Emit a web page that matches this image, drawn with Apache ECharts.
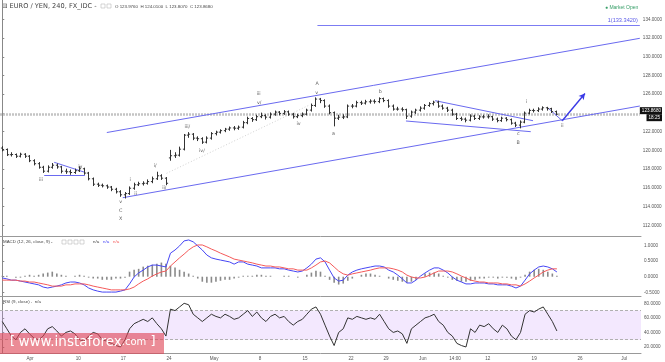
<!DOCTYPE html>
<html><head><meta charset="utf-8">
<script src="https://cdn.jsdelivr.net/npm/echarts@6/dist/echarts.min.js"></script>
<style>html,body{margin:0;padding:0;background:#fff}#c{width:665px;height:362px}</style>
</head><body><div id="c"></div>
<script>
// ---- price bars (half-day bars, EUR/JPY) ----
const opens=[120.25,120.10,119.54,119.56,119.38,119.59,119.38,118.90,118.58,118.20,
117.78,118.20,118.42,118.24,117.78,117.72,117.64,117.83,118.04,117.58,
116.97,116.39,116.28,116.22,116.09,115.85,115.58,115.26,115.39,115.96,
116.33,116.44,116.49,116.67,116.97,117.29,117.03,119.20,119.43,119.49,
120.13,121.63,121.73,121.31,121.25,120.88,121.31,121.79,121.95,122.11,
122.27,122.40,122.37,122.48,122.96,123.41,123.28,123.60,123.71,123.55,
123.87,124.09,123.95,124.12,123.87,123.60,123.71,123.87,124.30,124.80,
125.48,125.32,124.73,124.03,123.44,123.55,123.58,124.73,124.73,125.10,
125.05,125.19,125.26,125.21,125.53,125.32,124.73,124.41,124.41,124.35,
123.66,124.09,124.30,124.51,124.80,124.99,125.15,124.73,124.51,124.30,
123.87,123.41,123.34,123.23,123.66,123.41,123.58,123.58,123.60,123.34,
123.18,123.44,123.28,122.91,122.70,123.02,123.98,124.27,124.25,124.41,
124.55,124.46,124.14];
const highs=[120.40,120.15,119.75,119.62,119.70,119.65,119.45,119.00,118.70,118.30,
118.35,118.60,118.55,118.30,118.00,117.90,118.00,118.25,118.10,117.65,
117.05,116.50,116.40,116.30,116.15,115.95,115.70,115.50,116.10,116.50,
116.60,116.65,116.85,117.15,117.67,117.40,117.10,120.00,119.75,120.35,
121.70,121.90,121.80,121.45,121.35,121.45,121.90,122.05,122.20,122.35,
122.50,122.55,122.60,123.10,123.55,123.50,123.75,123.98,123.80,124.00,
124.20,124.15,124.25,124.20,123.95,123.85,124.00,124.40,124.95,125.61,
125.55,125.40,124.85,124.10,123.75,123.80,124.85,124.90,125.25,125.25,
125.35,125.40,125.40,125.61,125.58,125.40,124.85,124.60,124.55,124.40,
124.20,124.40,124.65,124.90,125.10,125.25,125.26,124.85,124.60,124.40,
123.95,123.55,123.45,123.80,123.75,123.70,123.75,123.80,123.65,123.45,
123.55,123.50,123.35,123.00,123.15,124.10,124.40,124.40,124.55,124.65,
124.60,124.50,124.20];
const lows=[119.95,119.45,119.40,119.25,119.30,119.25,118.80,118.45,118.10,117.65,
117.70,118.10,118.10,117.60,117.55,117.45,117.55,117.75,117.45,116.85,
116.25,116.15,116.10,115.95,115.70,115.45,115.10,114.92,115.30,115.85,
116.25,116.30,116.40,116.55,116.90,116.90,116.35,118.95,119.25,119.40,
120.05,121.40,121.15,121.05,120.75,120.80,121.20,121.65,121.85,122.00,
122.15,122.20,122.25,122.40,122.85,123.10,123.20,123.50,123.35,123.45,
123.75,123.80,123.85,123.75,123.45,123.50,123.60,123.80,124.20,124.70,
125.10,124.60,123.90,122.62,123.30,123.40,123.50,124.55,124.65,124.90,
124.95,125.05,125.05,125.10,125.20,124.60,124.30,124.30,124.20,123.41,
123.55,123.95,124.20,124.40,124.70,124.85,124.60,124.40,124.15,123.75,
123.30,123.20,123.05,123.15,123.30,123.30,123.45,123.45,123.20,123.05,
123.10,123.15,122.80,122.55,122.41,122.95,123.90,124.10,124.15,124.30,
124.30,124.05,123.81];
const closes=[120.10,119.54,119.56,119.38,119.59,119.38,118.90,118.58,118.20,117.78,
118.20,118.42,118.24,117.78,117.72,117.64,117.83,118.04,117.58,116.97,
116.39,116.28,116.22,116.09,115.85,115.58,115.26,115.39,115.96,116.33,
116.44,116.49,116.67,116.97,117.29,117.03,116.49,119.43,119.49,120.13,
121.63,121.73,121.31,121.25,120.88,121.31,121.79,121.95,122.11,122.27,
122.40,122.37,122.48,122.96,123.41,123.28,123.60,123.71,123.55,123.87,
124.09,123.95,124.12,123.87,123.60,123.71,123.87,124.30,124.80,125.48,
125.32,124.73,124.03,123.44,123.55,123.58,124.73,124.73,125.10,125.05,
125.19,125.26,125.21,125.53,125.32,124.73,124.41,124.41,124.35,123.66,
124.09,124.30,124.51,124.80,124.99,125.15,124.73,124.51,124.30,123.87,
123.41,123.34,123.23,123.66,123.41,123.58,123.58,123.60,123.34,123.18,
123.44,123.28,122.91,122.70,123.02,123.98,124.27,124.25,124.41,124.55,
124.46,124.14,123.868];

// ---- MACD (12,26,close,9) ----
const macdLine=[-0.04,-0.07,-0.11,-0.11,-0.14,-0.17,-0.20,-0.23,-0.26,-0.33,-0.36,-0.33,-0.30,
-0.26,-0.20,-0.17,-0.17,-0.20,-0.26,-0.36,-0.42,-0.46,-0.49,-0.49,-0.49,-0.49,-0.46,-0.42,
-0.23,-0.01,0.12,0.21,0.31,0.37,0.37,0.34,0.31,0.75,0.85,0.98,1.14,1.17,1.11,0.98,
0.85,0.69,0.60,0.56,0.53,0.50,0.47,0.40,0.47,0.47,0.40,0.37,0.34,0.28,0.28,0.28,0.28,
0.25,0.25,0.21,0.18,0.15,0.18,0.28,0.40,0.56,0.60,0.47,0.21,-0.04,-0.14,-0.11,0.05,0.15,0.21,0.25,0.28,
0.31,0.34,0.34,0.31,0.21,0.15,0.05,-0.07,-0.20,-0.20,-0.11,0.02,0.12,0.21,0.28,0.28,
0.21,0.12,-0.01,-0.11,-0.17,-0.23,-0.23,-0.20,-0.20,-0.20,-0.23,-0.23,-0.26,-0.26,-0.26,-0.30,
-0.36,-0.30,-0.11,0.09,0.21,0.31,0.34,0.31,0.25,0.15];
const signalLine=[-0.11,-0.11,-0.11,-0.11,-0.14,-0.14,-0.17,-0.17,-0.20,-0.23,-0.26,-0.30,-0.30,
-0.30,-0.26,-0.26,-0.23,-0.23,-0.23,-0.26,-0.30,-0.33,-0.36,-0.39,-0.42,-0.42,-0.42,-0.42,
-0.39,-0.33,-0.23,-0.14,-0.07,0.02,0.09,0.15,0.18,0.34,0.47,0.60,0.72,0.85,0.95,1.01,
1.01,0.95,0.88,0.82,0.75,0.69,0.63,0.56,0.53,0.50,0.47,0.44,0.40,0.37,0.34,0.34,0.31,
0.31,0.28,0.25,0.25,0.21,0.21,0.21,0.28,0.37,0.47,0.50,0.44,0.31,0.18,0.09,0.05,0.09,0.12,0.15,0.18,
0.21,0.25,0.28,0.28,0.28,0.25,0.21,0.15,0.05,-0.01,-0.04,-0.04,-0.01,0.05,0.12,0.18,
0.18,0.18,0.15,0.09,0.02,-0.04,-0.11,-0.14,-0.17,-0.17,-0.20,-0.20,-0.20,-0.23,-0.23,-0.26,
-0.26,-0.30,-0.23,-0.14,-0.04,0.05,0.15,0.21,0.25,0.25];
const macdHist=[0.03,0.03,0,-0.03,-0.03,0.03,0.06,0.03,0.06,0.10,0.13,0.16,0.10,
0.06,0.03,0,0.03,0.06,0.03,-0.03,-0.06,-0.06,-0.10,-0.10,-0.10,-0.06,-0.06,-0.03,
0.16,0.22,0.25,0.32,0.35,0.38,0.41,0.45,0.41,0.35,0.29,0.22,0.16,0.10,0.03,-0.06,
-0.16,-0.19,-0.19,-0.16,-0.13,-0.10,-0.10,-0.06,-0.03,0.03,0.03,0.03,0.06,0.06,0.03,0.03,0,
0,0.03,0.03,0,-0.03,0,0.06,0.13,0.19,0.16,0.03,-0.10,-0.19,-0.25,-0.22,-0.13,-0.06,0,0.06,0.10,
0.10,0.06,0.03,0,-0.06,-0.10,-0.13,-0.16,-0.19,-0.16,-0.10,0,0.10,0.13,0.13,0.10,
0.03,-0.03,-0.10,-0.13,-0.16,-0.16,-0.13,-0.10,-0.06,-0.06,-0.03,-0.03,-0.06,-0.03,-0.03,-0.06,
-0.10,-0.03,0.06,0.16,0.22,0.25,0.22,0.16,0.10,0.03];

// ---- RSI (9, close) ----
const rsiLine=[55,45,35,30,40,45,38,32,30,35,45,48,42,
35,40,42,38,30,28,35,40,38,30,28,25,22,20,30,
45,52,55,58,55,60,52,45,35,72,70,75,80,78,65,60,
55,60,65,62,60,65,62,58,60,65,70,62,68,60,55,62,65,
60,62,55,50,55,58,65,72,75,65,50,35,22,40,45,60,58,62,60,58,
60,58,65,55,45,40,42,38,25,45,50,55,60,62,65,55,
50,40,35,25,22,20,45,40,50,48,52,45,40,50,45,35,
30,40,65,70,68,72,75,65,55,42];

// ---- axes ticks ----
const priceTicks=[112,114,116,118,120,122,124,126,128,130,132,134];
const macdTicks=[-0.5,0,0.5,1];
const rsiTicks=[20,40,60,80];
const dateTickPos=[6.1,16.7,26.6,36.7,46.6,56.7,66.6,76.7,84.4,92.5,99.6,106.8,117,127.1,136.8];
const dateTickText=['Apr','10','17','24','May','8','15','22','29','Jun','14:00','12','19','26','Jul'];

// ---- annotations ----
const lastPrice=123.868;
const targetPrice=133.342;
const targetStart=69.45;
const waveLabels=[[8.5,116.91,'iii'],[17.2,118.26,'iv'],[26.1,114.52,'v'],[26.1,113.58,'C'],[26.1,112.67,'X'],
[28.2,116.84,'i'],[29.4,115.38,'ii'],[33.7,118.37,'i/'],[35.7,116.02,'ii/'],[40.8,122.53,'iii/'],[44.0,119.94,'iv/'],
[56.5,126.10,'iii'],[56.6,125.09,'v/'],[65.3,122.82,'iv'],[69.4,127.09,'A'],[69.3,126.20,'v'],[73.0,121.83,'a'],
[83.3,126.27,'b'],[113.7,121.83,'c'],[113.7,120.86,'B'],[115.5,125.20,'i'],[123.4,122.64,'ii']];
const trendLines=[
 [[23.04,121.91],[140.5,131.97]],
 [[26.56,114.95],[140.5,124.74]],
 [[11.44,118.73],[18.2,117.66]],
 [[9.24,117.37],[18.2,117.37]],
 [[95.4,125.31],[116.96,123.17]],
 [[88.96,123.14],[116.46,122.0]],
 [[120.1,124.6],[123.4,123.17]]
];
const arrowLine=[[123.4,123.17],[128.4,126.08]];
const dottedLine=[[36.2,117.55],[67.7,124.85]];

const chart=echarts.init(document.getElementById('c'),null,{renderer:'canvas'});
const GRAY='#555';
const BLUE='#6a6af0';
function yAx(gi,min,max,ticks,fmt){
  return {type:'value',gridIndex:gi,position:'right',min:min,max:max,
    axisLine:{show:true,lineStyle:{color:'#888',width:1}},
    axisTick:{show:true,length:2,lineStyle:{color:'#888'},customValues:ticks},
    axisLabel:{show:true,fontSize:4.6,color:GRAY,margin:3,customValues:ticks,formatter:fmt},
    splitLine:{show:false}};
}
function xAx(gi,pos,showLine,showLabel){
  return {type:'value',gridIndex:gi,min:-0.5,max:140.5,position:pos,
    axisLine:{show:showLine,onZero:false,lineStyle:{color:'#999',width:1}},
    axisTick:{show:false},splitLine:{show:false},
    axisLabel:{show:showLabel,fontSize:4.6,color:GRAY,margin:3,customValues:dateTickPos,
      formatter:function(v){const k=dateTickPos.indexOf(v);return k>=0?dateTickText[k]:'';}}};
}
const ohlcData=opens.map((o,i)=>[i,o,highs[i],lows[i],closes[i]]);
function renderOHLC(params,api){
  const i=api.value(0);
  const o=api.coord([i,api.value(1)]), h=api.coord([i,api.value(2)]),
        l=api.coord([i,api.value(3)]), c=api.coord([i,api.value(4)]);
  const x=Math.round(o[0])+0.5;
  const st={stroke:'#333',lineWidth:1};
  return {type:'group',children:[
    {type:'line',shape:{x1:x,y1:h[1]-0.5,x2:x,y2:l[1]+0.5},style:st},
    {type:'line',shape:{x1:x-1.6,y1:o[1],x2:x,y2:o[1]},style:st},
    {type:'line',shape:{x1:x,y1:c[1],x2:x+1.6,y2:c[1]},style:st}]};
}
const trendMark=trendLines.map(s=>[{coord:s[0]},{coord:s[1]}]);
const option={
  animation:false,
  backgroundColor:'#fff',
  grid:[{left:0,right:24,top:0,height:236},{left:0,right:24,top:236,height:60},{left:0,right:24,top:296,height:57.5}],
  xAxis:[xAx(0,'bottom',false,false),xAx(1,'top',true,false),xAx(2,'top',true,false),xAx(2,'bottom',true,true)],
  yAxis:[yAx(0,110.86,136.06,priceTicks,v=>v.toFixed(4)),
         yAx(1,-0.615,1.296,macdTicks,v=>v.toFixed(4)),
         yAx(2,11.08,90.02,rsiTicks,v=>v.toFixed(4))],
  series:[
    {type:'custom',xAxisIndex:0,yAxisIndex:0,renderItem:renderOHLC,data:ohlcData,encode:{x:0,y:[1,2,3,4]},z:5,
     markLine:{silent:true,symbol:['none','none'],lineStyle:{color:'#c4c4c4',width:2.5,type:[2,1]},
       label:{show:true,position:'end',distance:0,formatter:'{a|123.8680}\n{b|18:25}',
            rich:{a:{backgroundColor:'#111',color:'#fff',fontSize:4.6,padding:[1,1,1,2],lineHeight:7},
                  b:{backgroundColor:'#111',color:'#fff',fontSize:4.6,padding:[1,2,1,2],lineHeight:7,align:'right'}}},
       data:[[{coord:[-0.5,lastPrice]},{coord:[140.5,lastPrice]}]]}},
    {type:'line',xAxisIndex:0,yAxisIndex:0,data:[],
     markLine:{silent:true,symbol:['none','none'],lineStyle:{color:'#7c7cf3',width:1,type:'solid'},
       label:{show:true,position:'insideEndTop',distance:[2,2],formatter:'1(133.3420)',color:'#5a5ae8',fontSize:5.6},
       data:[[{coord:[targetStart,targetPrice]},{coord:[140.5,targetPrice]}]]}},
    {type:'line',xAxisIndex:0,yAxisIndex:0,data:[],
     markLine:{silent:true,symbol:['none','none'],lineStyle:{color:'#d2d2d2',width:1,type:[1,2]},label:{show:false},
       data:[[{coord:dottedLine[0]},{coord:dottedLine[1]}]]}},
    {type:'line',xAxisIndex:0,yAxisIndex:0,data:[],
     markLine:{silent:true,symbol:['none','none'],lineStyle:{color:BLUE,width:1,type:'solid'},label:{show:false},data:trendMark}},
    {type:'line',xAxisIndex:0,yAxisIndex:0,data:[],
     markLine:{silent:true,symbol:['none','arrow'],symbolSize:[5,6],lineStyle:{color:'#3a3ae6',width:1.4,type:'solid'},label:{show:false},
       data:[[{coord:arrowLine[0]},{coord:arrowLine[1]}]]}},
    {type:'scatter',xAxisIndex:0,yAxisIndex:0,symbolSize:0,data:waveLabels,z:10,
     label:{show:true,position:'inside',formatter:p=>p.data[2],fontSize:4.8,color:'#333',fontFamily:'DejaVu Sans'}},
    // MACD
    {type:'bar',xAxisIndex:1,yAxisIndex:1,barWidth:1.6,data:macdHist.map((v,i)=>[i,v]),itemStyle:{color:'#8a8a8a'}},
    {type:'line',xAxisIndex:1,yAxisIndex:1,data:macdLine.map((v,i)=>[i,v]),symbol:'none',lineStyle:{color:'#4646f5',width:1}},
    {type:'line',xAxisIndex:1,yAxisIndex:1,data:signalLine.map((v,i)=>[i,v]),symbol:'none',lineStyle:{color:'#f55a5a',width:1}},
    // RSI
    {type:'line',xAxisIndex:2,yAxisIndex:2,data:rsiLine.map((v,i)=>[i,v]),symbol:'none',lineStyle:{color:'#333',width:1},z:5,
     markArea:{silent:true,itemStyle:{color:'rgba(200,150,250,0.22)'},data:[[{yAxis:30},{yAxis:70}]]},
     markLine:{silent:true,symbol:['none','none'],label:{show:false},lineStyle:{color:'#b0b0b0',width:1,type:[3,2]},
       data:[{yAxis:70},{yAxis:30}]}}
  ],
  graphic:[
    {type:'text',left:2,top:3,style:{text:'⊟ EURO / YEN, 240, FX_IDC -',fontSize:6.6,fill:'#444',fontFamily:'DejaVu Sans'}},
    {type:'rect',shape:{x:101,y:4,width:4,height:4},style:{fill:'#fff',stroke:'#bbb',lineWidth:0.6}},
    {type:'rect',shape:{x:107,y:4,width:4,height:4},style:{fill:'#fff',stroke:'#bbb',lineWidth:0.6}},
    {type:'text',left:115,top:4.5,style:{text:'O 123.9760  H 124.0100  L 123.8070  C 123.8680',fontSize:4.4,fill:'#444'}},
    {type:'text',left:605,top:5,style:{text:'● Market Open',fontSize:5,fill:'#3aa06a'}},
    {type:'text',left:3,top:240,style:{text:'MACD (12, 26, close, 9) -',fontSize:4.4,fill:'#444'}},
    {type:'rect',shape:{x:62,y:240,width:4,height:4},style:{fill:'#fff',stroke:'#bbb',lineWidth:0.6}},
    {type:'rect',shape:{x:68,y:240,width:4,height:4},style:{fill:'#fff',stroke:'#bbb',lineWidth:0.6}},
    {type:'rect',shape:{x:74,y:240,width:4,height:4},style:{fill:'#fff',stroke:'#bbb',lineWidth:0.6}},
    {type:'rect',shape:{x:80,y:240,width:4,height:4},style:{fill:'#fff',stroke:'#bbb',lineWidth:0.6}},
    {type:'text',left:93,top:240,style:{text:'n/a',fontSize:4.4,fill:'#444'}},
    {type:'text',left:103,top:240,style:{text:'n/a',fontSize:4.4,fill:'#4646f5'}},
    {type:'text',left:113,top:240,style:{text:'n/a',fontSize:4.4,fill:'#f55a5a'}},
    {type:'text',left:3,top:300,style:{text:'RSI (9, close) -  n/a',fontSize:4.4,fill:'#444'}},
    {type:'rect',shape:{x:0,y:333,width:164,height:21},style:{fill:'rgba(222,70,85,0.62)'},z:100},
    {type:'text',left:10,top:335,z:101,style:{
      text:'{br|[} {w|www.instaforex}{c|.com}{br| ]}',
      rich:{br:{fontSize:13,fill:'#fff',fontFamily:'DejaVu Sans'},w:{fontSize:13.5,fill:'#fff',fontFamily:'DejaVu Sans'},c:{fontSize:10,fill:'#fff',fontFamily:'DejaVu Sans'}}}}
  ]
};
chart.setOption(option);
</script></body></html>
